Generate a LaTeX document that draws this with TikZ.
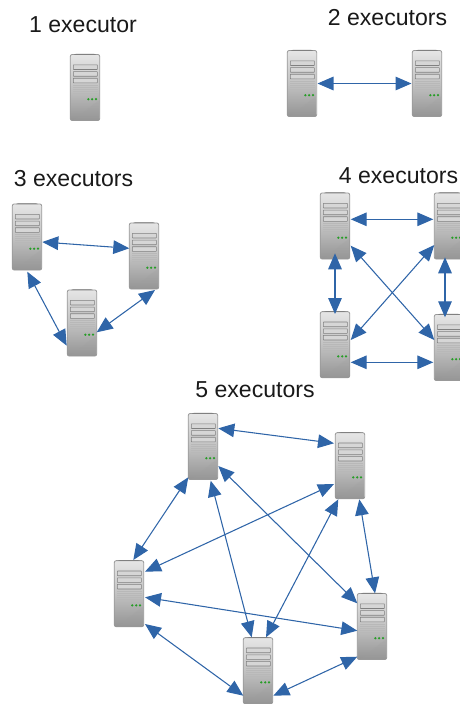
\documentclass[tikz,border=0pt]{standalone}
\usepackage{fontspec}
\setmainfont{Liberation Sans}
\usetikzlibrary{arrows.meta}
\definecolor{linkblue}{HTML}{2F65A8}
\tikzset{
  srvbox/.style={rectangle,minimum width=22.1pt,minimum height=49.6pt,inner sep=0pt,outer sep=0pt,rounded corners=1.5pt,draw=black!40,line width=.6pt,top color=black!10,bottom color=black!42,middle color=black!24},
  bay/.style={fill=black!16,draw=black!50,line width=.45pt,rounded corners=.3pt},
  vent/.style={draw=black!28,line width=.55pt},
  led/.style={fill=green!55!black!85,draw=none},
  link/.style={{Triangle[length=12pt,width=10.2pt]}-{Triangle[length=12pt,width=10.2pt]},draw=linkblue,color=linkblue,line width=.8pt},
  titlecap/.style={font=\fontsize{17.3}{20}\selectfont,text=black!90,inner sep=0pt}
}
\newcommand{\srv}[3]{%
  \node[srvbox] (#1) at (#2,#3) {};
  \begin{scope}[shift={(#2,#3)}]
    \fill[black!55] (-9,-33.6) -- (9,-33.6) -- (11,-33) -- (-11,-33) -- cycle;
    \fill[black!38,opacity=.22] (-12,32.4) .. controls (-4,30) and (0,22) .. (14,13) -- (14.4,31) -- (13,32.4) -- cycle;
    \draw[bay] (-11.7,-22.7) rectangle (12.3,-18);
    \draw[bay] (-11.7,-15.9) rectangle (12.3,-11.3);
    \draw[bay] (-11.7,-9.3) rectangle (12.3,-4.7);
    \foreach \v in {-2.5,-.5,1.5,3.5,5.5,7.5}{\draw[vent] (-12,\v) -- (12.5,\v);}
    \foreach \v in {3.3,7.2,11}{\fill[led] (\v,11.7) circle (1.25);}
  \end{scope}}
\newcommand{\lnk}[6]{\draw[link] ([shift={(#2,#3)}]#1.center) -- ([shift={(#5,#6)}]#4.center);}
\begin{document}
\begin{tikzpicture}[x=.75pt,y=-.75pt]
\useasboundingbox (0,0) rectangle (460,704);
\clip (0,0) rectangle (460,704);
\node[titlecap] (t1) at (83,25) {1 executor};
\node[titlecap] (t2) at (387.5,17.6) {2 executors};
\node[titlecap] (t3) at (73.5,178.6) {3 executors};
\node[titlecap] (t4) at (398.5,175.6) {4 executors};
\node[titlecap] (t5) at (255,389.6) {5 executors};
\srv{s}{85}{87.5}
\srv{ba}{302}{83.5}
\srv{bb}{427}{83.5}
\lnk{ba}{15.5}{0}{bb}{-15.5}{0}
\srv{ca}{27}{237}
\srv{cb}{144}{256}
\srv{cc}{82}{323}
\lnk{ca}{15.3}{5}{cb}{-14.7}{-7.7}
\lnk{ca}{.3}{34.7}{cc}{-15.3}{22.7}
\lnk{cb}{11}{34}{cc}{14.7}{9.3}
\srv{da}{335}{226}
\srv{db}{449}{226}
\srv{dc}{335}{344.7}
\srv{dd}{449}{347.5}
\lnk{da}{15.7}{-6.7}{db}{-15.7}{-6.7}
\lnk{da}{0}{27.3}{dc}{0}{-30.7}
\lnk{db}{-4}{31.3}{dd}{-4}{-30.2}
\lnk{dc}{15.7}{17.6}{dd}{-15.7}{14.8}
\lnk{da}{15.7}{19.7}{dd}{-14.7}{-7.5}
\lnk{db}{-14.7}{19}{dc}{15.7}{-4.7}
\srv{ea}{203}{446.5}
\srv{eb}{350}{465.7}
\srv{ec}{129}{593.7}
\srv{ed}{372}{626.5}
\srv{ee}{258}{670.7}
\lnk{ea}{15.3}{-18.2}{eb}{-16}{-22.4}
\lnk{ea}{-14.7}{30.8}{ec}{4.3}{-33.7}
\lnk{ea}{15.3}{19.5}{ed}{-14.7}{-23.2}
\lnk{ea}{7.7}{34.2}{ee}{-6.3}{-33.4}
\lnk{eb}{-16}{18.3}{ec}{16}{-22}
\lnk{eb}{-11.7}{33.6}{ee}{8}{-33.4}
\lnk{eb}{9.3}{33.6}{ed}{3}{-33.2}
\lnk{ec}{16}{3.6}{ed}{-14.7}{4.2}
\lnk{ec}{16}{30.3}{ee}{-14.7}{25}
\lnk{ed}{-14.7}{30.2}{ee}{15.3}{25}
\end{tikzpicture}
\end{document}
